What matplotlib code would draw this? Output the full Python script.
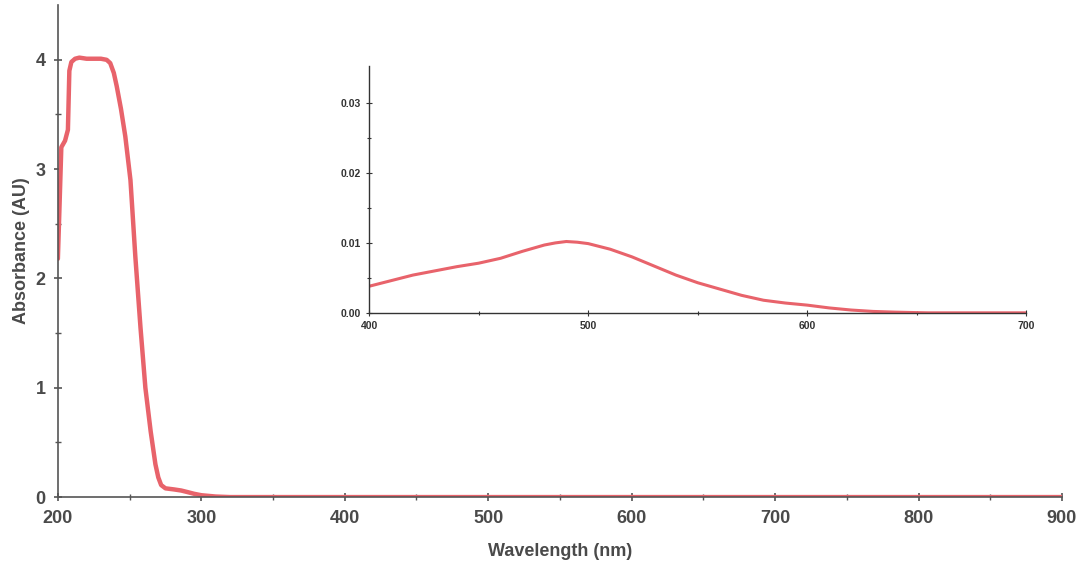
import matplotlib
matplotlib.use("Agg")
import matplotlib.pyplot as plt
import numpy as np

# Main spectrum (nm, AU)
main_wl = [200, 201, 202.4, 205, 207, 208, 209.4, 212, 215, 220, 225, 230, 234, 236.5, 239, 241,
           244, 247, 250.6, 254, 257.6, 261, 264.7, 268, 270, 272, 275, 281, 286, 290.6, 295, 300,
           310, 320, 400, 500, 600, 700, 800, 900]
main_abs = [2.18, 2.6, 3.2, 3.26, 3.36, 3.9, 3.98, 4.01, 4.02, 4.01, 4.01, 4.01, 4.0, 3.97, 3.88, 3.76,
            3.55, 3.3, 2.9, 2.2, 1.55, 1.0, 0.6, 0.3, 0.18, 0.11, 0.08, 0.07, 0.06, 0.045, 0.03, 0.017,
            0.005, 0.0, 0.0, 0.0, 0.0, 0.0, 0.0, 0.0]

# Inset (visible region)
inset_wl = [400, 410, 420, 430, 440, 450, 460, 470, 480, 485, 490, 495, 500, 510, 520, 530, 540,
            550, 560, 570, 580, 590, 600, 610, 620, 630, 640, 650, 655, 700]
inset_abs = [0.0038, 0.0046, 0.0054, 0.0060, 0.0066, 0.0071, 0.0078, 0.0088, 0.0097, 0.0100, 0.0102,
             0.0101, 0.0099, 0.0091, 0.0080, 0.0067, 0.0054, 0.0043, 0.0034, 0.0025, 0.0018, 0.0014,
             0.0011, 0.0007, 0.0004, 0.0002, 0.0001, 0.00003, 0.0, 0.0]

main_xticks = [200, 300, 400, 500, 600, 700, 800, 900]
main_yticks = [0, 1, 2, 3, 4]
inset_xticks = [400, 500, 600, 700]
inset_yticks = [0.00, 0.01, 0.02, 0.03]
inset_ylabels = ["0.00", "0.01", "0.02", "0.03"]

line_color = "#e8636b"
axis_color = "#555555"
text_color = "#4a4a4a"

plt.rcParams['font.family'] = ['Liberation Sans', 'DejaVu Sans']

fig = plt.figure(figsize=(10.92, 5.74), dpi=100)
ax = fig.add_axes([0.053, 0.134, 0.9195, 0.857])
ax.plot(main_wl, main_abs, color=line_color, lw=3.2, solid_capstyle='round', solid_joinstyle='round')
ax.set_xlim(200, 900)
ax.set_ylim(0, 4.5)
for s in ['top', 'right']:
    ax.spines[s].set_visible(False)
for s in ['left', 'bottom']:
    ax.spines[s].set_color(axis_color)
    ax.spines[s].set_linewidth(1.2)
ax.set_xticks(main_xticks)
ax.set_xticklabels([str(v) for v in main_xticks])
ax.set_yticks(main_yticks)
ax.set_yticklabels([str(v) for v in main_yticks])
ax.set_xticks(np.arange(250, 900, 100), minor=True)
ax.set_yticks(np.arange(0.5, 4.5, 1.0), minor=True)
ax.tick_params(axis='both', which='major', direction='inout', length=6, width=1.2,
               color=axis_color, labelcolor=text_color, labelsize=13, pad=6)
ax.tick_params(axis='both', which='minor', direction='inout', length=5, width=1.0,
               color=axis_color)
for lab in ax.get_xticklabels() + ax.get_yticklabels():
    lab.set_fontweight('bold')
ax.set_ylabel("Absorbance (AU)", fontsize=13, color=text_color, fontweight='bold', labelpad=4)
ax.set_xlabel("Wavelength (nm)", fontsize=13, color=text_color, fontweight='bold', labelpad=12)

# Inset
axi = fig.add_axes([0.338, 0.455, 0.602, 0.43])
axi.plot(inset_wl, inset_abs, color=line_color, lw=2.2, solid_joinstyle='round')
axi.set_xlim(400, 700)
axi.set_ylim(0, 0.0353)
for s in ['top', 'right']:
    axi.spines[s].set_visible(False)
for s in ['left', 'bottom']:
    axi.spines[s].set_color('#333333')
    axi.spines[s].set_linewidth(1.0)
axi.set_xticks(inset_xticks)
axi.set_xticklabels([str(v) for v in inset_xticks])
axi.set_yticks(inset_yticks)
axi.set_yticklabels(inset_ylabels)
axi.set_xticks([450, 550, 650], minor=True)
axi.set_yticks([0.005, 0.015, 0.025], minor=True)
axi.tick_params(axis='both', which='major', direction='inout', length=4, width=0.8,
                color='#333333', labelcolor='#333333', labelsize=7.5, pad=4)
axi.tick_params(axis='both', which='minor', direction='inout', length=3, width=0.8,
                color='#333333')
for lab in axi.get_xticklabels() + axi.get_yticklabels():
    lab.set_fontweight('bold')
axi.patch.set_alpha(0)

fig.savefig("out.png", dpi=100, facecolor='white')
